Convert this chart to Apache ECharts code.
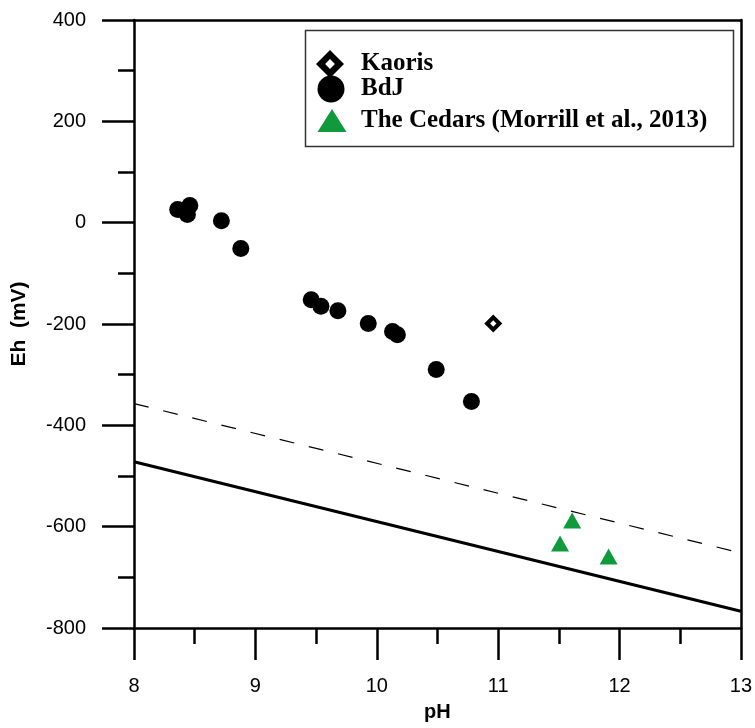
<!DOCTYPE html>
<html>
<head>
<meta charset="utf-8">
<script src="https://cdn.jsdelivr.net/npm/echarts@6/dist/echarts.min.js"></script>
<style>
  html, body { margin: 0; padding: 0; background: #fff; }
  #main { width: 755px; height: 728px; }
</style>
</head>
<body>
<div id="main"></div>
<script>
// data: [pH, Eh (mV)]
var kaoris = [[10.96, -199]];
var bdj = [
  [8.36, 26], [8.46, 34], [8.44, 16], [8.72, 4], [8.88, -51],
  [9.46, -152], [9.54, -165], [9.68, -174], [9.93, -199],
  [10.13, -215], [10.17, -221], [10.49, -290], [10.78, -353]
];
var cedars = [[11.61, -588], [11.51, -633], [11.91, -659]];
// boundary lines (end points)
var dashedLine = [[8, -357], [13, -652]];
var solidLine = [[8, -472], [13, -767]];

var xTicks = { min: 8, max: 13, interval: 1 };
var yTicks = { min: -800, max: 400, interval: 200 };

var axisFont = 'Liberation Sans, Arial, sans-serif';
var legendFont = 'Liberation Serif, Times New Roman, serif';
var green = '#0f9b3c';
// hollow diamond drawn as a filled shape with a hole
var hollowDiamond = 'path://M0,-1L1,0L0,1L-1,0ZM0,-0.35L-0.35,0L0,0.35L0.35,0Z';

var myChart = echarts.init(document.getElementById('main'));

// one legend per entry so every icon can get its own size
function legendBox(item, left, top, w, h, padLeft) {
  return {
    data: [item],
    orient: 'vertical',
    left: left,
    top: top,
    padding: 0,
    itemWidth: w,
    itemHeight: h,
    selectedMode: false,
    z: 5,
    textStyle: {
      fontFamily: legendFont,
      fontWeight: 'bold',
      fontSize: 25,
      lineHeight: 27,
      padding: [0, 0, 0, padLeft],
      color: '#000'
    }
  };
}

myChart.setOption({
  animation: false,
  backgroundColor: '#fff',
  grid: { left: 134, right: 14, top: 20, bottom: 100 },
  graphic: [{
    type: 'rect',
    z: 1,
    shape: { x: 305.5, y: 30.5, width: 428, height: 116 },
    style: { fill: '#fff', stroke: '#333', lineWidth: 1.5 }
  }],
  legend: [
    legendBox({ name: 'Kaoris', icon: hollowDiamond, itemStyle: { color: '#000', borderWidth: 0 } },
      316, 50, 28, 28, 12),
    legendBox('BdJ', 317.5, 75.5, 27, 27, 11.5),
    legendBox('The Cedars (Morrill et al., 2013)', 317.5, 107, 29, 23, 9.5)
  ],
  xAxis: [{
    type: 'value',
    min: xTicks.min, max: xTicks.max, interval: xTicks.interval,
    name: 'pH',
    nameLocation: 'middle',
    nameGap: 74,
    nameTextStyle: { fontFamily: axisFont, fontWeight: 'bold', fontSize: 20, color: '#000' },
    axisLine: { onZero: false, lineStyle: { color: '#000', width: 2.5 } },
    axisTick: { length: 32, lineStyle: { color: '#000', width: 2.5 } },
    minorTick: { show: true, splitNumber: 2, length: 16, lineStyle: { color: '#000', width: 2.5 } },
    axisLabel: { margin: 48, fontFamily: axisFont, fontSize: 20, color: '#000' },
    splitLine: { show: false }
  }, {
    type: 'value', position: 'top',
    min: xTicks.min, max: xTicks.max,
    axisLine: { onZero: false, lineStyle: { color: '#000', width: 2.5 } },
    axisTick: { show: false }, axisLabel: { show: false }, splitLine: { show: false }
  }],
  yAxis: [{
    type: 'value',
    min: yTicks.min, max: yTicks.max, interval: yTicks.interval,
    name: 'Eh  (mV)',
    nameLocation: 'middle',
    nameGap: 104,
    nameTextStyle: { fontFamily: axisFont, fontWeight: 'bold', fontSize: 21, color: '#000' },
    axisLine: { onZero: false, lineStyle: { color: '#000', width: 2.5 } },
    axisTick: { length: 32, lineStyle: { color: '#000', width: 2.5 } },
    minorTick: { show: true, splitNumber: 2, length: 16, lineStyle: { color: '#000', width: 2.5 } },
    axisLabel: { margin: 48, fontFamily: axisFont, fontSize: 20, color: '#000' },
    splitLine: { show: false }
  }, {
    type: 'value', position: 'right',
    min: yTicks.min, max: yTicks.max,
    axisLine: { onZero: false, lineStyle: { color: '#000', width: 2.5 } },
    axisTick: { show: false }, axisLabel: { show: false }, splitLine: { show: false }
  }],
  series: [{
    name: 'dashed',
    type: 'line',
    data: dashedLine,
    symbol: 'none',
    silent: true,
    lineStyle: { color: '#000', width: 1.2, type: [15, 15] },
    z: 1
  }, {
    name: 'solid',
    type: 'line',
    data: solidLine,
    symbol: 'none',
    silent: true,
    lineStyle: { color: '#000', width: 3 },
    z: 1
  }, {
    name: 'Kaoris',
    type: 'scatter',
    data: kaoris,
    symbol: hollowDiamond,
    symbolSize: 18,
    itemStyle: { color: '#000', opacity: 1 },
    z: 3
  }, {
    name: 'BdJ',
    type: 'scatter',
    data: bdj,
    symbol: 'circle',
    symbolSize: 17,
    itemStyle: { color: '#000', opacity: 1 },
    z: 3
  }, {
    name: 'The Cedars (Morrill et al., 2013)',
    type: 'scatter',
    data: cedars,
    symbol: 'triangle',
    symbolSize: [18, 16],
    itemStyle: { color: green, opacity: 1 },
    z: 3
  }]
});
</script>
</body>
</html>
